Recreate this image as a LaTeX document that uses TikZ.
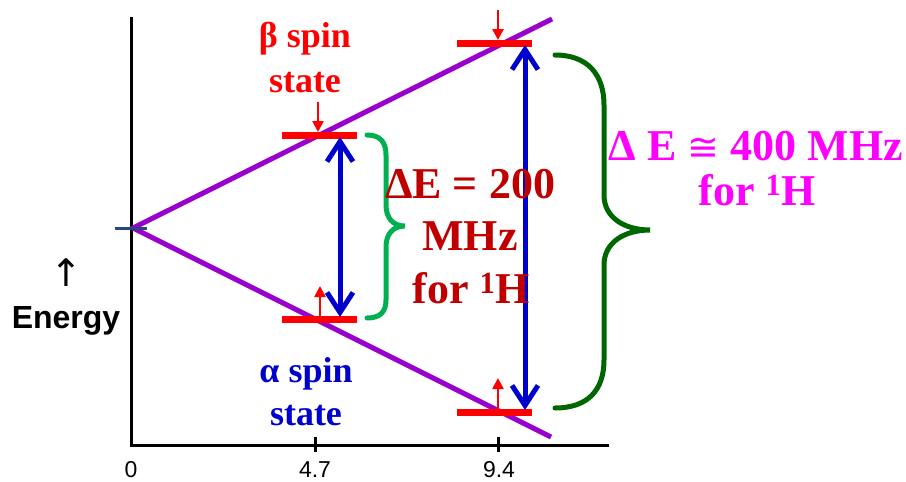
\documentclass[tikz,border=0pt]{standalone}
\usepackage{fontspec}
\setmainfont{Liberation Serif}
\setsansfont{Liberation Sans}
\newfontfamily\djv{DejaVu Sans}
\usetikzlibrary{arrows.meta}
\definecolor{purp}{RGB}{153,0,204}
\definecolor{redc}{RGB}{255,0,0}
\definecolor{bluec}{RGB}{0,0,204}
\definecolor{lgreen}{RGB}{0,176,80}
\definecolor{dgreen}{RGB}{0,102,0}
\definecolor{dred}{RGB}{192,0,0}
\definecolor{magc}{RGB}{255,0,255}
\definecolor{dblue}{RGB}{36,72,124}
\begin{document}
\begin{tikzpicture}[x=1pt,y=-1pt,
  axis/.style={line width=3pt,black},
  level/.style={line width=5pt,purp},
  bar/.style={line width=7pt,redc},
  spinarrow/.style={line width=2.5pt,redc,-{Triangle[length=11pt,width=11pt]}},
  transarrow/.style={line width=5pt,bluec,line cap=round,{Straight Barb[length=20pt,width=26pt]}-{Straight Barb[length=20pt,width=26pt]}},
  brace/.style={line width=5pt,line cap=round},
  lab/.style={font=\bfseries\fontsize{36}{40}\selectfont,anchor=base,inner sep=0pt},
  big/.style={font=\bfseries\fontsize{44}{48}\selectfont,anchor=base,inner sep=0pt},
  tick/.style={font=\sffamily\fontsize{23}{24}\selectfont,inner sep=0pt,anchor=base}
]
\useasboundingbox (0,0) rectangle (906,482);
% axes
\coordinate (top) at (131,18);
\coordinate (origin) at (131,445);
\coordinate (xend) at (607,445);
\draw[axis,line cap=rect] (top) -- (origin) -- (xend);
\draw[axis] (315,437) -- (315,452);
\draw[axis] (498,437) -- (498,452);
\node[tick] (t0) at (131,477) {0};
\node[tick] (t1) at (315,477) {4.7};
\node[tick] (t2) at (499,477) {9.4};
% energy label
\node[inner sep=0pt,font=\djv\fontsize{38}{40}\selectfont] (up) at (66,273) {↑};
\node[inner sep=0pt,anchor=base,font=\sffamily\bfseries\fontsize{32}{34}\selectfont] (energy) at (66,328) {Energy};
% levels
\coordinate (v) at (133,228);
\coordinate (hi) at (552,19);
\coordinate (lo) at (551,437);
\draw[level] (hi) -- (v) -- (lo);
\draw[line width=3pt,dblue] (115,228) -- (147,228);
% red bars
\coordinate (b1l) at (282,135); \coordinate (b1r) at (357,135);
\coordinate (b2l) at (282,319); \coordinate (b2r) at (357,319);
\coordinate (b3l) at (457,43); \coordinate (b3r) at (532,43);
\coordinate (b4l) at (457,412); \coordinate (b4r) at (532,412);
\draw[bar] (b1l) -- (b1r);
\draw[bar] (b2l) -- (b2r);
\draw[bar] (b3l) -- (b3r);
\draw[bar] (b4l) -- (b4r);
% spin arrows
\coordinate (s1a) at (318,102); \coordinate (s1b) at (318,132);
\coordinate (s2a) at (320,316); \coordinate (s2b) at (320,286);
\coordinate (s3a) at (498,10); \coordinate (s3b) at (498,40);
\coordinate (s4a) at (498,409); \coordinate (s4b) at (498,378);
\draw[spinarrow] (s1a) -- (s1b);
\draw[spinarrow] (s2a) -- (s2b);
\draw[spinarrow] (s3a) -- (s3b);
\draw[spinarrow] (s4a) -- (s4b);
% transition arrows
\coordinate (a1t) at (340,137); \coordinate (a1b) at (340,317);
\coordinate (a2t) at (525,45); \coordinate (a2b) at (525,410);
\draw[transarrow] (a1t) -- (a1b);
\draw[transarrow] (a2t) -- (a2b);
% braces
\draw[brace,lgreen] (367,135) .. controls (380,135) and (386,142) .. (386,155) -- (386,205)
  .. controls (386,218) and (393,226) .. (405,226)
  .. controls (393,226) and (386,234) .. (386,247) -- (386,300)
  .. controls (386,312) and (380,318) .. (367,318);
\draw[brace,dgreen] (555,55) .. controls (588,55) and (604,75) .. (604,105) -- (604,195)
  .. controls (604,218) and (625,230) .. (650,230)
  .. controls (625,230) and (604,242) .. (604,265) -- (604,360)
  .. controls (604,390) and (588,408) .. (555,408);
% texts
\node[lab,redc] (beta1) at (305,47) {β spin};
\node[lab,redc] (beta2) at (305,92) {state};
\node[lab,bluec] (alpha1) at (306,382) {α spin};
\node[lab,bluec] (alpha2) at (306,425) {state};
\node[big,dred] (de1) at (470,198) {ΔE = 200};
\node[big,dred] (de2) at (470,250) {MHz};
\node[big,dred] (de3) at (471,303) {for \textsuperscript{1}H};
\node[big,magc] (dd1) at (756,160) {Δ E {\djv\mdseries\fontsize{38}{40}\selectfont ≅} 400 MHz};
\node[big,magc] (dd2) at (757,205) {for \textsuperscript{1}H};
\end{tikzpicture}
\end{document}
